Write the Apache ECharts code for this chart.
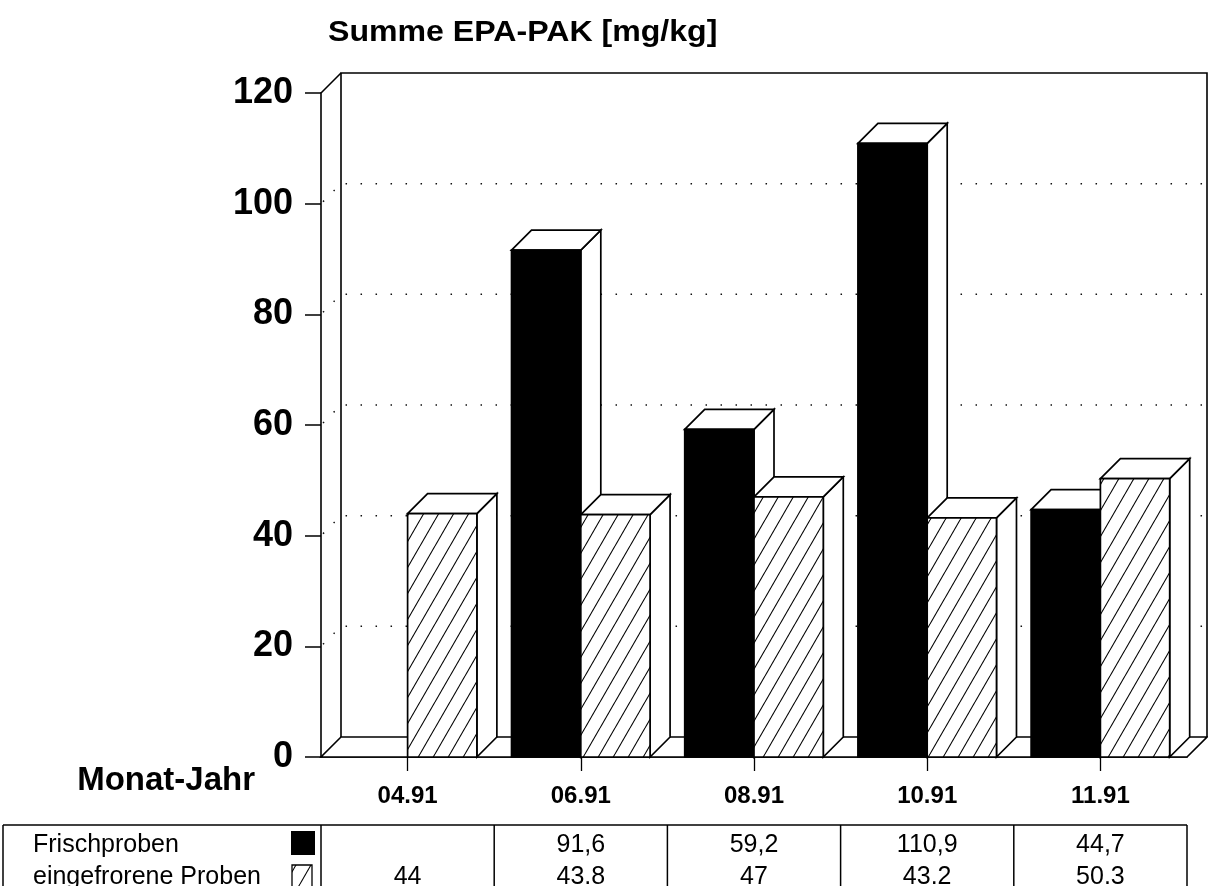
<!DOCTYPE html>
<html><head><meta charset="utf-8">
<script src="https://cdn.jsdelivr.net/npm/echarts@6/dist/echarts.min.js"></script>
<style>html,body{margin:0;padding:0;background:#fff}#c{width:1208px;height:886px}</style>
</head><body><div id="c"></div>
<script>
// ---- data ----
const categories = ['04.91', '06.91', '08.91', '10.91', '11.91'];
const frischproben = [null, 91.6, 59.2, 110.9, 44.7];
const eingefroren = [44, 43.8, 47, 43.2, 50.3];
const yTicks = [0, 20, 40, 60, 80, 100, 120];
const seriesNames = ['Frischproben', 'eingefrorene Proben'];
const chartTitle = 'Summe EPA-PAK [mg/kg]';
const xAxisTitle = 'Monat-Jahr';

// ---- styles ----
const D = 20;               // 3D depth offset in px
const FONT = '"Liberation Sans", Arial, sans-serif';
const TABLE_TOP = 825, ROW1 = 845, ROW2 = 877;

function makeHatch() {
  const w = 15, h = 26;
  const c = document.createElement('canvas');
  c.width = w; c.height = h;
  const g = c.getContext('2d');
  g.fillStyle = '#fff'; g.fillRect(0, 0, w, h);
  g.strokeStyle = '#000'; g.lineWidth = 1.1;
  for (let k = -1; k <= 1; k++) {
    g.beginPath(); g.moveTo(k * w, h); g.lineTo(k * w + w, 0); g.stroke();
  }
  return c;
}
const hatch = { image: makeHatch(), repeat: 'repeat' };

const chart = echarts.init(document.getElementById('c'), null, { renderer: 'canvas' });

function bar3D(seriesIdx) {
  return function (params, api) {
    const v = api.value(1);
    if (v == null || isNaN(v)) return;
    const i = api.value(0);
    const base = api.coord([i, 0]);
    const top = api.coord([i, v]);
    const catW = api.size([1, 0])[0];
    const bw = catW * 0.4;
    const x0 = seriesIdx === 0 ? base[0] - bw : base[0];
    const x1 = x0 + bw, yb = base[1], yt = top[1];
    const st = { stroke: '#000', lineWidth: 1.7, lineJoin: 'miter' };
    return {
      type: 'group',
      children: [
        { type: 'polygon', shape: { points: [[x1, yt], [x1 + D, yt - D], [x1 + D, yb - D], [x1, yb]] },
          style: Object.assign({ fill: '#fff' }, st) },
        { type: 'polygon', shape: { points: [[x0, yt], [x0 + D, yt - D], [x1 + D, yt - D], [x1, yt]] },
          style: Object.assign({ fill: '#fff' }, st) },
        { type: 'rect', shape: { x: x0, y: yt, width: bw, height: yb - yt },
          style: Object.assign({ fill: seriesIdx === 0 ? '#000' : hatch }, st) }
      ]
    };
  };
}

function walls(params, api) {
  const p0 = api.coord([0, 0]);
  const catW = api.size([1, 0])[0];
  const left = p0[0] - catW / 2, right = left + catW * categories.length;
  const y0 = p0[1];
  const yTop = api.coord([0, yTicks[yTicks.length - 1]])[1];
  const ch = [];
  ch.push({ type: 'polygon', shape: { points: [[left, y0], [right, y0], [right + D, y0 - D], [left + D, y0 - D]] },
    style: { fill: '#fff', stroke: '#000', lineWidth: 1.6 } });
  ch.push({ type: 'polyline', shape: { points: [[left + D, y0 - D], [left + D, yTop - D], [right + D, yTop - D], [right + D, y0 - D]] },
    style: { fill: null, stroke: '#000', lineWidth: 1.6 } });
  ch.push({ type: 'line', shape: { x1: left, y1: yTop, x2: left + D, y2: yTop - D },
    style: { stroke: '#000', lineWidth: 1.6 } });
  yTicks.slice(1, -1).forEach(t => {
    const y = api.coord([0, t])[1];
    ch.push({ type: 'polyline', shape: { points: [[left + 2, y - 2], [left + D, y - D], [right + D, y - D]] },
      style: { fill: null, stroke: '#111', lineWidth: 1.5, lineDash: [1.5, 13.5] } });
  });
  return { type: 'group', children: ch };
}

function tableCol(params, api) {
  const i = api.value(0);
  const c = api.coord([i, 0]);
  const catW = api.size([1, 0])[0];
  const rightEdge = c[0] + catW / 2;
  const fv = frischproben[i], ev = eingefroren[i];
  const t1 = fv == null ? '' : String(fv).replace('.', ',');
  const t2 = ev == null ? '' : String(ev);
  const font = '25px ' + FONT;
  return {
    type: 'group',
    children: [
      { type: 'line', shape: { x1: rightEdge, y1: TABLE_TOP, x2: rightEdge, y2: 900 },
        style: { stroke: '#000', lineWidth: 1.5 } },
      { type: 'text', style: { text: t1, x: c[0], y: ROW1, align: 'center', verticalAlign: 'middle', font: font, fill: '#000' } },
      { type: 'text', style: { text: t2, x: c[0], y: ROW2, align: 'center', verticalAlign: 'middle', font: font, fill: '#000' } }
    ]
  };
}

const option = {
  animation: false,
  backgroundColor: '#fff',
  textStyle: { fontFamily: FONT },
  grid: { left: 321, right: 21, top: 93, bottom: 129 },
  xAxis: {
    type: 'category',
    data: categories,
    axisLine: { show: true, lineStyle: { color: '#000', width: 1.6 } },
    axisTick: { show: true, alignWithLabel: true, length: 14, lineStyle: { color: '#000', width: 1.3 } },
    axisLabel: { margin: 27, color: '#000', fontSize: 24, fontWeight: 'bold', fontFamily: FONT },
    splitLine: { show: false }
  },
  yAxis: {
    type: 'value',
    min: 0, max: 120, interval: 20,
    axisLine: { show: true, lineStyle: { color: '#000', width: 1.6 } },
    axisTick: { show: true, length: 16, lineStyle: { color: '#000', width: 1.5 } },
    axisLabel: { margin: 28, color: '#000', fontSize: 36, fontWeight: 'bold', fontFamily: FONT },
    splitLine: { show: false }
  },
  graphic: [
    { type: 'text', x: 328, y: 33, scaleX: 1.07,
      style: { text: chartTitle, font: 'bold 30px ' + FONT, fill: '#000', verticalAlign: 'middle' } },
    { type: 'text', x: 255, y: 781,
      style: { text: xAxisTitle, font: 'bold 33px ' + FONT, fill: '#000', align: 'right', verticalAlign: 'middle' } },
    // table frame
    { type: 'line', shape: { x1: 3, y1: TABLE_TOP, x2: 1187, y2: TABLE_TOP }, style: { stroke: '#000', lineWidth: 1.6 } },
    { type: 'line', shape: { x1: 3, y1: TABLE_TOP, x2: 3, y2: 900 }, style: { stroke: '#000', lineWidth: 1.5 } },
    { type: 'line', shape: { x1: 321, y1: TABLE_TOP, x2: 321, y2: 900 }, style: { stroke: '#000', lineWidth: 1.5 } },
    { type: 'text', x: 33, y: ROW1, style: { text: seriesNames[0], font: '25px ' + FONT, fill: '#000', verticalAlign: 'middle' } },
    { type: 'text', x: 33, y: ROW2, style: { text: seriesNames[1], font: '25px ' + FONT, fill: '#000', verticalAlign: 'middle' } },
    { type: 'rect', shape: { x: 291, y: 831, width: 24, height: 24 }, style: { fill: '#000' } },
    { type: 'rect', shape: { x: 292, y: 865, width: 20, height: 24 }, style: { fill: hatch, stroke: '#000', lineWidth: 1.3 } }
  ],
  series: [
    { type: 'custom', name: 'walls', z: 1, clip: false, silent: true,
      data: [[0, 0]], encode: { x: 0, y: 1 }, renderItem: walls },
    { type: 'custom', name: seriesNames[0], z: 2, clip: false,
      data: frischproben.map((v, i) => [i, v]), encode: { x: 0, y: 1 }, renderItem: bar3D(0) },
    { type: 'custom', name: seriesNames[1], z: 3, clip: false,
      data: eingefroren.map((v, i) => [i, v]), encode: { x: 0, y: 1 }, renderItem: bar3D(1) },
    { type: 'custom', name: 'table', z: 4, clip: false, silent: true,
      data: categories.map((c, i) => [i, 0]), encode: { x: 0, y: 1 }, renderItem: tableCol }
  ]
};
chart.setOption(option);
</script>
</body></html>
